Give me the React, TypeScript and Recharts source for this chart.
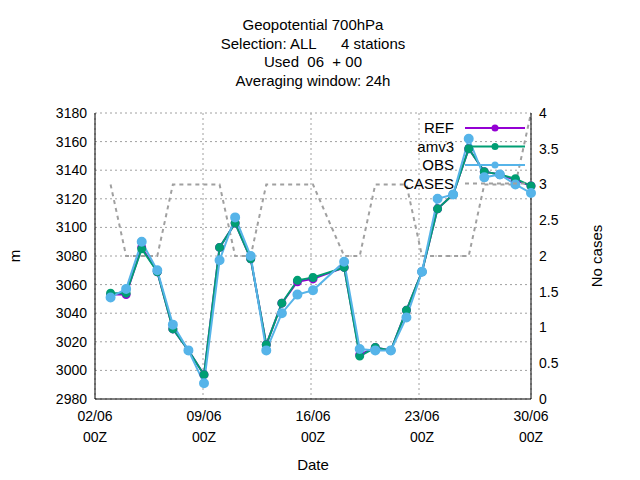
import { LineChart, Line, XAxis, YAxis, CartesianGrid } from "recharts";

const days = [3, 4, 5, 6, 7, 8, 9, 10, 11, 12, 13, 14, 15, 16, 17, 18, 19, 20, 21, 22, 23, 24, 25, 26, 27, 28, 29, 30];
const refVals = [3053, 3053, 3086, 3069, 3029, 3014, 2997, 3086, 3103, 3078, 3018, 3047, 3062, 3064, null, 3072, 3011, 3016, 3014, 3042, 3069, 3113, 3123, 3155, 3139, 3137, 3133, 3129];
const amv3Vals = [3054, 3054, 3085, 3069, 3029, 3014, 2997, 3086, 3103, 3078, 3018, 3047, 3063, 3065, null, 3072, 3010, 3016, 3014, 3042, 3069, 3113, 3123, 3155, 3139, 3137, 3134, 3129];
const obsVals = [3051, 3057, 3090, 3070, 3032, 3014, 2991, 3077, 3107, 3080, 3014, 3040, 3053, 3056, null, 3076, 3015, 3014, 3014, 3037, 3069, 3120, 3123, 3162, 3135, 3137, 3130, 3124];
const casesVals = [3, 2, 2, 2, 3, 3, 3, 3, 2, 2, 3, 3, 3, 3, null, 2, 2, 3, 3, 3, 2, 2, 2, 2, 3, 3, 3, 4];

const xTicks = [2, 9, 16, 23, 30];
const yTicks = [2980, 3000, 3020, 3040, 3060, 3080, 3100, 3120, 3140, 3160, 3180];
const y2Ticks = [0, 0.5, 1, 1.5, 2, 2.5, 3, 3.5, 4];
const titleLines = ["Geopotential 700hPa", "Selection: ALL      4 stations", "Used  06  + 00", "Averaging window: 24h"];

const data = days.map((d, i) => ({
  day: d,
  REF: refVals[i],
  amv3: amv3Vals[i],
  OBS: obsVals[i],
  CASES: casesVals[i],
}));

const font = "Liberation Sans, Arial, sans-serif";

const legendItems = [
  { name: "REF", color: "#9400d3", dash: "" },
  { name: "amv3", color: "#009e73", dash: "" },
  { name: "OBS", color: "#56b4e9", dash: "" },
  { name: "CASES", color: "#a0a0a0", dash: "4 4" },
];

function DateTick({ x, y, payload }: any) {
  const d = String(payload.value).padStart(2, "0");
  return (
    <g>
      <text x={x} y={y + 14} textAnchor="middle" fontSize={14} fill="#000" fontFamily={font}>{d}/06</text>
      <text x={x} y={y + 35} textAnchor="middle" fontSize={14} fill="#000" fontFamily={font}>00Z</text>
    </g>
  );
}

export default function App() {
  return (
    <div style={{ position: "absolute", left: 0, top: 0, width: 640, height: 480, background: "#fff", fontFamily: font }}>
      <LineChart width={640} height={480} data={data} margin={{ top: 113, left: 45, right: 59, bottom: 41 }} style={{ position: "absolute", left: 0, top: 0 }}>
        <CartesianGrid stroke="#a0a0a0" strokeDasharray="2 3" verticalPoints={[95, 203, 311, 419, 531]} yAxisId="left" />
        <XAxis dataKey="day" type="number" domain={[2, 30]} ticks={xTicks} tick={<DateTick />} tickLine={false} stroke="#000" height={40} interval={0} />
        <XAxis xAxisId="top" orientation="top" dataKey="day" type="number" domain={[2, 30]} tick={false} tickLine={false} stroke="#000" height={0} />
        <YAxis yAxisId="left" domain={[2980, 3180]} ticks={yTicks} tickLine={false} stroke="#000" width={50} interval={0}
          tick={{ fontSize: 14, fill: "#000", fontFamily: font }} />
        <YAxis yAxisId="right" orientation="right" domain={[0, 4]} ticks={y2Ticks} tickLine={false} stroke="#000" width={50} interval={0}
          tick={{ fontSize: 14, fill: "#000", fontFamily: font }} />
        <Line yAxisId="right" dataKey="CASES" stroke="#a0a0a0" strokeWidth={2} strokeDasharray="4 4" dot={false} connectNulls isAnimationActive={false} />
        <Line yAxisId="left" dataKey="REF" stroke="#9400d3" strokeWidth={2} dot={{ r: 3.5, fill: "#9400d3", stroke: "#9400d3" }} connectNulls isAnimationActive={false} />
        <Line yAxisId="left" dataKey="amv3" stroke="#009e73" strokeWidth={2} dot={{ r: 3.5, fill: "#009e73", stroke: "#009e73" }} connectNulls isAnimationActive={false} />
        <Line yAxisId="left" dataKey="OBS" stroke="#56b4e9" strokeWidth={2} dot={{ r: 4, fill: "#56b4e9", stroke: "#56b4e9" }} connectNulls isAnimationActive={false} />
      </LineChart>
      <svg width={640} height={480} style={{ position: "absolute", left: 0, top: 0, pointerEvents: "none" }}>
        {titleLines.map((t, i) => (
          <text key={i} x={313} y={30 + i * 18.5} textAnchor="middle" fontSize={15} fontFamily={font} fill="#000" style={{ whiteSpace: "pre" }}>{t}</text>
        ))}
        {legendItems.map((it, i) => (
          <g key={it.name}>
            <text x={454} y={133 + i * 18.5} textAnchor="end" fontSize={15} fontFamily={font} fill="#000">{it.name}</text>
            <line x1={465} x2={525} y1={128 + i * 18.5} y2={128 + i * 18.5} stroke={it.color} strokeWidth={2} strokeDasharray={it.dash} />
            {it.name !== "CASES" && <circle cx={495} cy={128 + i * 18.5} r={3.5} fill={it.color} />}
          </g>
        ))}
        <text x={313} y={470} textAnchor="middle" fontSize={15} fontFamily={font} fill="#000">Date</text>
        <text x={20} y={256} textAnchor="middle" fontSize={15} fontFamily={font} fill="#000" transform="rotate(-90 20 256)">m</text>
        <text x={602} y={256} textAnchor="middle" fontSize={15} fontFamily={font} fill="#000" transform="rotate(-90 602 256)">No cases</text>
      </svg>
    </div>
  );
}
